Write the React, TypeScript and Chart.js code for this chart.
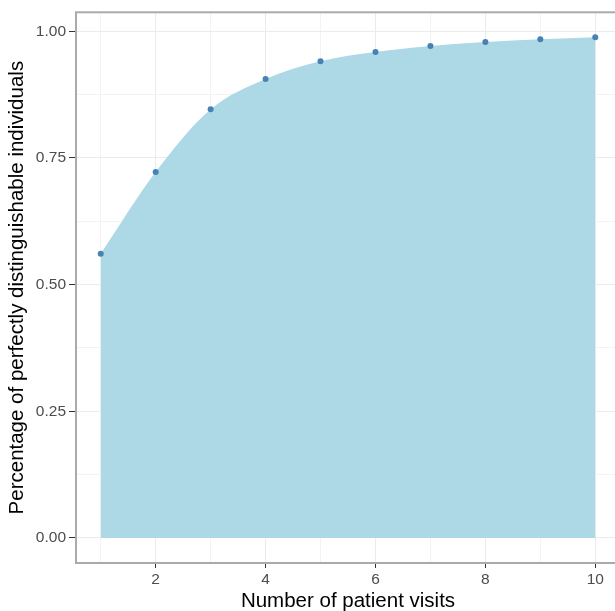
import { useEffect, useRef } from "react";
import { Chart, registerables } from "chart.js";

Chart.register(...registerables);

// ---- data ----
const visits = [1, 2, 3, 4, 5, 6, 7, 8, 9, 10];
const distinguishable = [0.561, 0.722, 0.846, 0.906, 0.941, 0.959, 0.971, 0.979, 0.984, 0.988];

const xMajorTicks = [2, 4, 6, 8, 10];
const xMinorTicks = [1, 3, 5, 7, 9];
const yMajorTicks = [0, 0.25, 0.5, 0.75, 1];
const yMinorTicks = [0.125, 0.375, 0.625, 0.875];
const yTickLabels = ["0.00", "0.25", "0.50", "0.75", "1.00"];

const xTitle = "Number of patient visits";
const yTitle = "Percentage of perfectly distinguishable individuals";

const FONT = "'Liberation Sans', Arial, Helvetica, sans-serif";

const isMajor = (list: number[], v: number) => list.some((m) => Math.abs(m - v) < 1e-9);

const panelBorder = {
  id: "panelBorder",
  afterDraw(chart: any) {
    const { ctx, chartArea } = chart;
    const { left, top, right, bottom } = chartArea;
    ctx.save();
    ctx.strokeStyle = "#aaaaaa";
    ctx.lineWidth = 2;
    ctx.strokeRect(left, top, right - left, bottom - top);
    ctx.restore();
  },
};

export default function App() {
  const ref = useRef<HTMLCanvasElement | null>(null);

  useEffect(() => {
    if (!ref.current) return;
    const points = visits.map((x, i) => ({ x, y: distinguishable[i] }));
    const chart = new Chart(ref.current, {
      type: "scatter",
      data: {
        datasets: [
          {
            type: "scatter",
            data: points,
            backgroundColor: "#4682b4",
            borderColor: "#4682b4",
            pointRadius: 3,
            pointBorderWidth: 0,
          } as any,
          {
            type: "line",
            data: points,
            showLine: true,
            fill: "origin",
            backgroundColor: "#add8e6",
            borderColor: "#add8e6",
            borderWidth: 0,
            pointRadius: 0,
            cubicInterpolationMode: "monotone",
          } as any,
        ],
      },
      options: {
        responsive: false,
        animation: false,
        events: [],
        layout: { padding: { top: 12, right: 5, bottom: 0, left: 0 } },
        plugins: { legend: { display: false }, tooltip: { enabled: false } },
        scales: {
          x: {
            type: "linear",
            min: 0.55,
            max: 10.45,
            afterBuildTicks: (scale: any) => {
              scale.ticks = [...xMinorTicks, ...xMajorTicks]
                .sort((a, b) => a - b)
                .map((v) => ({ value: v }));
            },
            afterFit: (scale: any) => {
              scale.height = 48;
            },
            border: { display: false },
            grid: {
              color: (c: any) => (isMajor(xMajorTicks, c.tick?.value) ? "#ebebeb" : "#f3f3f3"),
              lineWidth: 1,
              tickLength: 5,
              tickColor: (c: any) => (isMajor(xMajorTicks, c.tick?.value) ? "#333333" : "rgba(0,0,0,0)"),
              tickWidth: 1,
            },
            ticks: {
              autoSkip: false,
              maxRotation: 0,
              padding: 2,
              color: "#4d4d4d",
              font: { family: FONT, size: 15.5 },
              callback: (v: any) => (isMajor(xMajorTicks, Number(v)) ? String(v) : ""),
            },
            title: {
              display: true,
              text: xTitle,
              color: "#000000",
              font: { family: FONT, size: 20.5 },
              padding: { top: 0, bottom: -3 },
            },
          },
          y: {
            type: "linear",
            min: -0.0494,
            max: 1.0374,
            afterBuildTicks: (scale: any) => {
              scale.ticks = [...yMinorTicks, ...yMajorTicks]
                .sort((a, b) => a - b)
                .map((v) => ({ value: v }));
            },
            afterFit: (scale: any) => {
              scale.width = 76;
            },
            border: { display: false },
            grid: {
              color: (c: any) => (isMajor(yMajorTicks, c.tick?.value) ? "#ebebeb" : "#f3f3f3"),
              lineWidth: 1,
              tickLength: 7,
              tickColor: (c: any) => (isMajor(yMajorTicks, c.tick?.value) ? "#333333" : "rgba(0,0,0,0)"),
              tickWidth: 1,
            },
            ticks: {
              autoSkip: false,
              padding: 3,
              color: "#4d4d4d",
              font: { family: FONT, size: 15.5 },
              callback: (v: any) => {
                const idx = yMajorTicks.findIndex((m) => Math.abs(m - Number(v)) < 1e-9);
                return idx >= 0 ? yTickLabels[idx] : "";
              },
            },
            title: {
              display: true,
              text: yTitle,
              color: "#000000",
              font: { family: FONT, size: 20.5 },
              padding: { top: 5, bottom: 0 },
            },
          },
        },
      },
      plugins: [panelBorder],
    } as any);
    return () => chart.destroy();
  }, []);

  return (
    <div
      style={{
        position: "fixed",
        left: 0,
        top: 0,
        width: 615,
        height: 611,
        overflow: "hidden",
        background: "#ffffff",
      }}
    >
      <canvas
        ref={ref}
        width={625}
        height={611}
        style={{ display: "block", width: "625px", height: "611px" }}
      />
    </div>
  );
}
